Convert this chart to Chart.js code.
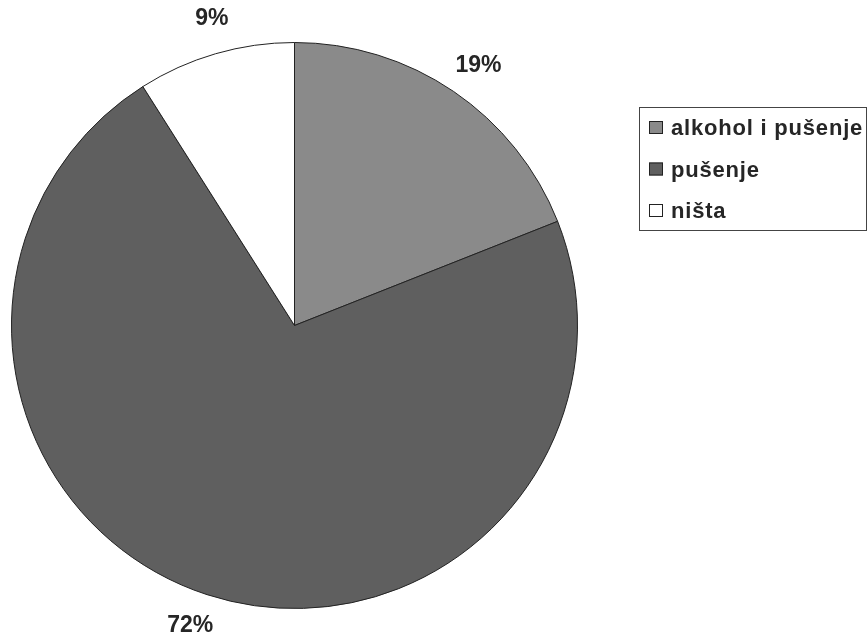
<!DOCTYPE html>
<html>
<head>
<meta charset="utf-8">
<script src="https://cdn.jsdelivr.net/npm/chart.js@4.4.0/dist/chart.umd.min.js"></script>
<style>
  html, body { margin: 0; padding: 0; background: #fff; }
  #wrap { width: 868px; height: 635px; position: relative; }
</style>
</head>
<body>
<div id="wrap"><canvas id="pieChart" width="868" height="635"></canvas></div>
<script>
const categories = ['alkohol i pušenje', 'pušenje', 'ništa'];
const percentValues = [19, 72, 9];
const sliceColors = ['#8a8a8a', '#5f5f5f', '#ffffff'];

// percent labels just outside the pie
const outsideLabels = {
  id: 'outsideLabels',
  afterDatasetsDraw(chart) {
    const ctx = chart.ctx;
    const arcs = chart.getDatasetMeta(0).data;
    ctx.save();
    ctx.font = 'bold 23px "Liberation Sans", Arial, sans-serif';
    ctx.fillStyle = '#262626';
    ctx.textAlign = 'center';
    ctx.textBaseline = 'middle';
    arcs.forEach((arc, i) => {
      const mid = (arc.startAngle + arc.endAngle) / 2 + 0.02;
      const r = arc.outerRadius + 35;
      ctx.fillText(percentValues[i] + '%', arc.x + Math.cos(mid) * r, arc.y + Math.sin(mid) * r);
    });
    ctx.restore();
  }
};

// boxed legend on the right
const boxLegend = {
  id: 'boxLegend',
  afterDraw(chart) {
    const ctx = chart.ctx;
    const left = 639, top = 107, width = 228, height = 123;
    ctx.save();
    ctx.strokeStyle = '#444';
    ctx.lineWidth = 1;
    ctx.strokeRect(left + 0.5, top + 0.5, width - 1, height);
    ctx.font = 'bold 22px "Liberation Sans", Arial, sans-serif';
    ctx.letterSpacing = '0.8px';
    ctx.textBaseline = 'middle';
    categories.forEach((name, i) => {
      const y = top + 21 + i * 41.5;
      ctx.fillStyle = sliceColors[i];
      ctx.fillRect(left + 10, y - 7, 14, 13);
      ctx.strokeStyle = '#222';
      ctx.strokeRect(left + 10.5, y - 6.5, 13, 12);
      ctx.fillStyle = '#262626';
      ctx.fillText(name, left + 32, y + 1);
    });
    ctx.restore();
  }
};

new Chart(document.getElementById('pieChart'), {
  type: 'pie',
  data: {
    labels: categories,
    datasets: [{
      data: percentValues,
      backgroundColor: sliceColors,
      borderColor: '#222',
      borderWidth: 1
    }]
  },
  options: {
    responsive: false,
    animation: false,
    layout: { padding: { left: 11, right: 290, top: 42, bottom: 26 } },
    plugins: {
      legend: { display: false },
      tooltip: { enabled: false }
    }
  },
  plugins: [outsideLabels, boxLegend]
});
</script>
</body>
</html>
